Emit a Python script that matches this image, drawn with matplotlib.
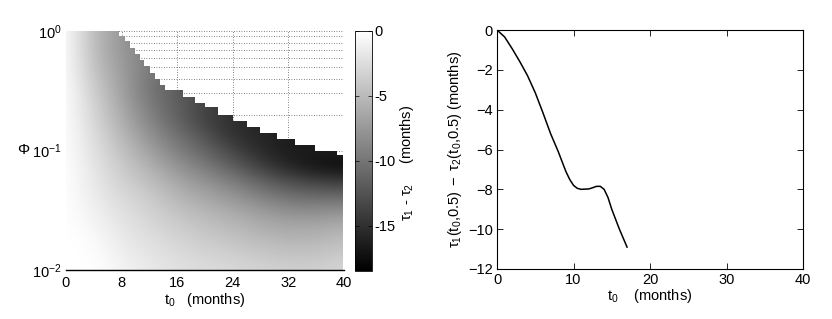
import numpy as np
import matplotlib
matplotlib.use("Agg")
import matplotlib.pyplot as plt
from matplotlib.patches import Polygon

plt.rcParams['font.family'] = ['Liberation Sans', 'DejaVu Sans']
plt.rcParams['mathtext.fontset'] = 'custom'
plt.rcParams['mathtext.rm'] = 'Liberation Sans'
plt.rcParams['mathtext.it'] = 'Liberation Sans:italic'
plt.rcParams['mathtext.bf'] = 'Liberation Sans:bold'

# ---------------- data: left panel (tau1 - tau2 field, months) ----------------
t0_grid = [0, 4, 8, 12, 16, 20, 24, 28, 32, 36, 40]
logphi_grid = [0, -0.125, -0.25, -0.375, -0.5, -0.625, -0.75, -0.875, -1.0,
               -1.125, -1.25, -1.375, -1.5, -1.625, -1.75, -1.875, -2.0]
field = [
    [0, -5.0, -7.5, -9.5, -11.5, -13.5, -15.0, -15.8, -16.5, -16.5, -16.0],
    [0, -4.9, -7.5, -9.5, -11.5, -13.5, -15.0, -15.8, -16.5, -16.5, -16.0],
    [0, -4.7, -7.3, -9.5, -11.5, -13.5, -15.0, -15.8, -16.5, -16.5, -16.0],
    [0, -4.2, -7.0, -9.8, -11.5, -13.5, -15.0, -15.8, -16.5, -16.5, -16.0],
    [0, -3.6, -6.8, -10.0, -11.8, -13.5, -15.0, -15.8, -16.5, -16.5, -16.0],
    [0, -3.2, -6.3, -9.5, -11.6, -13.6, -15.0, -15.8, -16.5, -16.5, -16.0],
    [0, -2.9, -5.8, -8.9, -11.3, -13.8, -15.2, -15.8, -16.5, -16.5, -16.0],
    [0, -2.5, -5.1, -7.9, -10.3, -12.5, -15.0, -15.8, -16.5, -16.5, -16.0],
    [0, -2.2, -4.5, -6.8, -9.3, -11.2, -13.5, -15.5, -16.5, -16.5, -16.0],
    [0, -1.9, -3.9, -5.7, -7.9, -9.7, -11.8, -14.0, -16.0, -17.2, -17.8],
    [0, -1.7, -3.4, -4.7, -6.5, -8.0, -9.5, -11.5, -13.0, -14.0, -14.5],
    [0, -1.4, -2.8, -3.9, -5.4, -6.6, -7.8, -9.3, -10.5, -11.0, -11.0],
    [0, -1.1, -2.3, -3.3, -4.5, -5.4, -6.3, -7.3, -8.3, -8.4, -8.0],
    [0, -0.7, -1.9, -2.8, -3.7, -4.5, -5.2, -6.0, -6.5, -6.5, -6.0],
    [0, -0.3, -1.6, -2.3, -3.1, -3.8, -4.3, -5.0, -5.4, -5.3, -4.8],
    [0, -0.1, -1.2, -1.9, -2.6, -3.1, -3.5, -4.0, -4.3, -4.3, -3.8],
    [0, 0.0, -0.9, -1.6, -2.2, -2.6, -2.8, -3.2, -3.5, -3.5, -3.0],
]
# staircase upper edge of the defined region (start t0 of each step, log10(Phi) level)
edge_t0 = [0, 7.6, 8.5, 9.2, 9.9, 10.6, 11.2, 12.1, 12.8, 13.5, 14.2, 16.8,
           18.6, 20.0, 21.9, 24.0, 26.0, 27.9, 30.4, 32.9, 35.8, 39.0]
edge_top = [0, -0.04, -0.08, -0.14, -0.19, -0.24, -0.29, -0.35, -0.40, -0.45,
            -0.49, -0.55, -0.60, -0.64, -0.70, -0.75, -0.80, -0.85, -0.90,
            -0.95, -1.00, -1.04]
t0_end = 39.85

cbar_ticks = [0, -5, -10, -15]
cbar_labels = ['0', '-5', '-10', '-15']
vmin, vmax = -18.5, 0

# ---------------- data: right panel ----------------
t0_line = [0, 1, 2, 3, 4, 5, 6, 7, 8, 9, 9.5, 10, 10.5, 11, 12, 12.5, 13,
           13.5, 14, 14.5, 15, 16, 17]
diff_line = [0, -0.35, -0.95, -1.6, -2.3, -3.15, -4.15, -5.2, -6.1, -7.1,
             -7.5, -7.8, -7.95, -8.0, -7.98, -7.92, -7.85, -7.85, -8.0,
             -8.4, -9.0, -10.0, -10.9]

FS = 10.5

# ---------------- figure ----------------
fig = plt.figure(figsize=(8.32, 3.19), dpi=100)
ax1 = fig.add_axes([66/832, 49/319, 278/832, 239/319])
cax = fig.add_axes([355/832, 48/319, 17/832, 240/319])
ax2 = fig.add_axes([497/832, 50/319, 306/832, 239/319])

# left panel
dt = t0_grid[1] - t0_grid[0]
dl = logphi_grid[0] - logphi_grid[1]
extent = [t0_grid[0] - dt/2, t0_grid[-1] + dt/2,
          logphi_grid[-1] - dl/2, logphi_grid[0] + dl/2]
im = ax1.imshow(np.array(field), cmap='gray', vmin=vmin, vmax=vmax,
                extent=extent, origin='upper', aspect='auto',
                interpolation='bicubic', zorder=1)

verts = [(0, logphi_grid[-1])]
for i in range(len(edge_t0)):
    x_start = edge_t0[i]
    x_stop = edge_t0[i+1] if i + 1 < len(edge_t0) else t0_end
    verts.append((x_start, edge_top[i]))
    verts.append((x_stop, edge_top[i]))
verts.append((t0_end, logphi_grid[-1]))
clip = Polygon(verts, closed=True, transform=ax1.transData, facecolor='none',
               edgecolor='none')
im.set_clip_path(clip)

ax1.set_xlim(0, 40)
ax1.set_ylim(-2, 0)
ax1.set_xticks([0, 8, 16, 24, 32, 40])
ax1.set_yticks([-2, -1, 0])
ax1.set_yticklabels([r'$\mathrm{10^{-2}}$', r'$\mathrm{10^{-1}}$', r'$\mathrm{10^{0}}$'])
minor = [np.log10(k * 10.0**e) for e in (-2, -1) for k in range(2, 10)]
ax1.set_yticks(minor, minor=True)
ax1.set_axisbelow(True)
ax1.grid(True, which='both', axis='y', ls=(0, (1, 2)), color='0.35', lw=0.6)
ax1.grid(True, which='major', axis='x', ls=(0, (1, 2)), color='0.35', lw=0.6)
ax1.axvline(40, ls=(0, (1, 2)), color='0.45', lw=0.6, zorder=3)
ax1.tick_params(which='both', length=0, labelsize=FS, pad=3)
ax1.tick_params(axis='x', pad=4)
for s in ('left', 'top', 'right'):
    ax1.spines[s].set_visible(False)
ax1.spines['bottom'].set_linewidth(1.0)
ax1.set_xlabel(r'$\mathrm{t_0}$   (months)', fontsize=FS, labelpad=1)
ax1.set_ylabel(r'$\Phi$', fontsize=11, rotation=0, labelpad=6, va='center')

cb = fig.colorbar(im, cax=cax)
cb.set_ticks(cbar_ticks)
cb.set_ticklabels(cbar_labels)
cb.outline.set_linewidth(0.6)
cax.tick_params(direction='in', length=3, width=0.5, labelsize=FS, pad=2,
                left=True, right=True)
cb.set_label(r'$\mathrm{\tau_1}$ - $\mathrm{\tau_2}$     (months)',
             fontsize=FS, rotation=90)
cax.yaxis.set_label_coords(2.55, 0.45)

# right panel
ax2.plot(t0_line, diff_line, color='black', lw=1.1)
ax2.set_xlim(0, 40)
ax2.set_ylim(-12, 0)
ax2.set_xticks([0, 10, 20, 30, 40])
ax2.set_yticks([0, -2, -4, -6, -8, -10, -12])
ax2.tick_params(direction='in', length=4, width=0.6, top=True, right=True,
                labelsize=FS, pad=3)
for s in ax2.spines.values():
    s.set_linewidth(0.8)
ax2.set_xlabel(r'$\mathrm{t_0}$    (months)', fontsize=FS, labelpad=0)
ax2.set_ylabel(r'$\mathrm{\tau_1(t_0{,}0.5)\ -\ \tau_2(t_0{,}0.5)}$ (months)',
               fontsize=FS, labelpad=3)

fig.savefig('out.png', dpi=100)
